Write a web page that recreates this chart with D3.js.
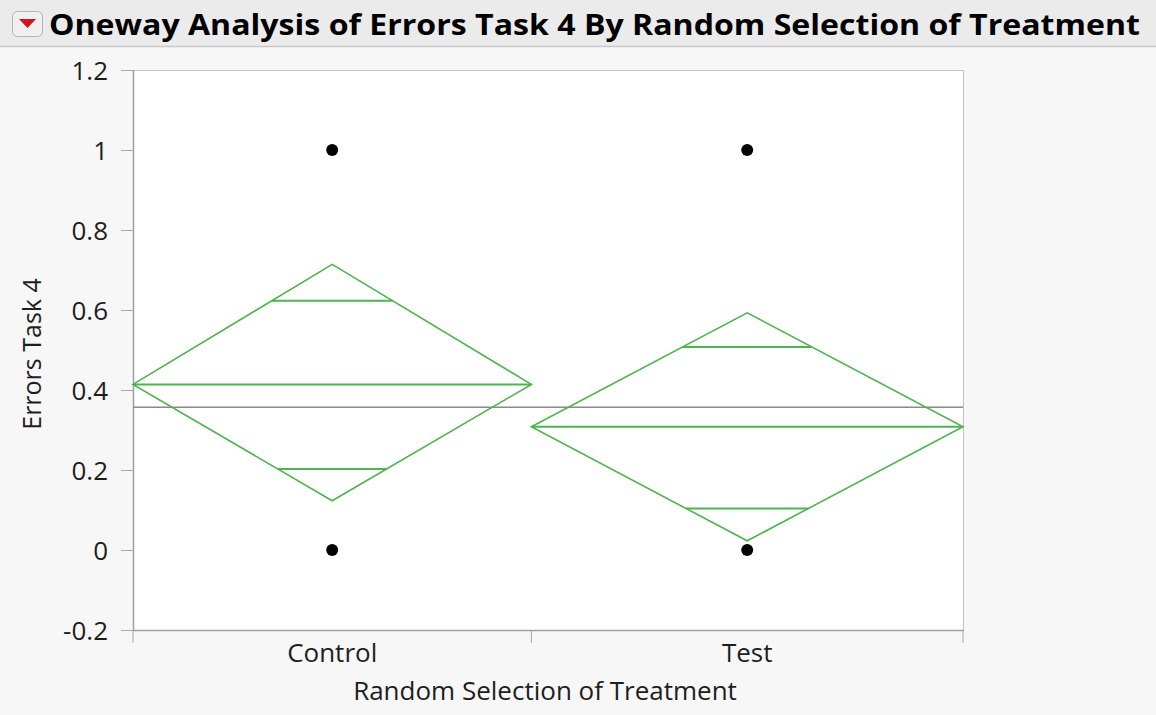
<!DOCTYPE html>
<html><head><meta charset="utf-8">
<script src="https://cdn.jsdelivr.net/npm/d3@7"></script>
<style>
html,body{margin:0;padding:0;background:#f7f7f7;}
svg{display:block;}
text{font-family:"Open Sans","Noto Sans",sans-serif;}
</style></head>
<body>
<svg id="chart" width="1156" height="715"></svg>
<script>
// ---- data ----
const categories = ["Control", "Test"];
const groupCounts = [24, 26];            // sample sizes (set category widths)
const groupMeans = [0.414, 0.308];
const ciUpper = [0.714, 0.593];
const ciLower = [0.123, 0.023];
const overlapUpper = [0.623, 0.5075];
const overlapLower = [0.2025, 0.104];
const grandMean = 0.357;
const pointCategory = ["Control", "Control", "Test", "Test"];
const pointValues = [1, 0, 1, 0];
const yTicks = [-0.2, 0, 0.2, 0.4, 0.6, 0.8, 1, 1.2];
const titleText = "Oneway Analysis of Errors Task 4 By Random Selection of Treatment";
const yTitle = "Errors Task 4";
const xTitle = "Random Selection of Treatment";

// ---- layout ----
const svg = d3.select("#chart");
const L = 133, R = 963, T = 70, B = 630;
const green = "#4fb44f";
const textCol = "#1e1e1e";

// header
svg.append("rect").attr("x",0).attr("y",0).attr("width",1156).attr("height",46).attr("fill","#ebebeb");
svg.append("line").attr("x1",0).attr("x2",1156).attr("y1",46.5).attr("y2",46.5).attr("stroke","#c9c9c9").attr("stroke-width",1.5);
svg.append("rect").attr("x",12.5).attr("y",11.5).attr("width",30).attr("height",25).attr("rx",5)
  .attr("fill","#f0f0f0").attr("stroke","#b4b4b4");
svg.append("path").attr("d","M19,19 L36,19 L27.5,28 Z").attr("fill","#d3121a");
svg.append("text").attr("x",49).attr("y",35).attr("font-size",29).attr("font-weight","bold")
  .attr("fill","#000").attr("textLength",1091).attr("lengthAdjust","spacingAndGlyphs").text(titleText);

// scales
const y = d3.scaleLinear().domain([-0.2, 1.2]).range([B, T]);
const total = d3.sum(groupCounts);
const edges = [0];
groupCounts.forEach(n => edges.push(edges[edges.length-1] + n/total));
const xr = d3.scaleLinear().domain([0,1]).range([L, R]);
const catLeft = c => xr(edges[categories.indexOf(c)]);
const catRight = c => xr(edges[categories.indexOf(c)+1]);
const catMid = c => (catLeft(c)+catRight(c))/2;

// plot background
svg.append("rect").attr("x",L).attr("y",T).attr("width",R-L).attr("height",B-T).attr("fill","#fff");

// y axis
const yAxis = d3.axisLeft(y).tickValues(yTicks).tickSize(12).tickPadding(13);
const gy = svg.append("g").attr("transform",`translate(${L},0)`).call(yAxis);
gy.select(".domain").remove();
gy.selectAll(".tick line").attr("stroke","#a8a8a8");
gy.selectAll(".tick text").attr("font-size",26).attr("font-family",null).attr("fill",textCol).attr("dy","0.36em")
  .text(d => d < 0 ? "-" + d3.format("")(Math.abs(d)) : d3.format("")(d));

// x axis ticks (category boundaries)
const gx = svg.append("g");
gx.selectAll("line").data(edges).join("line")
  .attr("x1", d => xr(d)).attr("x2", d => xr(d)).attr("y1", B).attr("y2", B+13)
  .attr("stroke","#a8a8a8");
gx.selectAll("text").data(categories).join("text")
  .attr("x", d => catMid(d)).attr("y", 662).attr("text-anchor","middle")
  .attr("font-size",26).attr("fill",textCol).text(d => d);

// frame
svg.append("line").attr("x1",L+0.5).attr("x2",R).attr("y1",T+0.5).attr("y2",T+0.5).attr("stroke","#c4c4c4");
svg.append("line").attr("x1",R+0.5).attr("x2",R+0.5).attr("y1",T).attr("y2",B).attr("stroke","#c4c4c4");
svg.append("line").attr("x1",L+0.5).attr("x2",L+0.5).attr("y1",T).attr("y2",B+1).attr("stroke","#a0a0a0").attr("stroke-width",1.5);
svg.append("line").attr("x1",L).attr("x2",R+1).attr("y1",B+0.5).attr("y2",B+0.5).attr("stroke","#a0a0a0").attr("stroke-width",1.5);

// grand mean line
svg.append("line").attr("x1",L).attr("x2",R).attr("y1",y(grandMean)).attr("y2",y(grandMean))
  .attr("stroke","#8a8a8a").attr("stroke-width",1.5);

// means diamonds
const g = svg.append("g").attr("fill","none").attr("stroke",green).attr("stroke-width",1.6);
categories.forEach((c,i) => {
  const l = catLeft(c), r = catRight(c), m = catMid(c), hw = (r-l)/2;
  g.append("path").attr("d",
    `M${l},${y(groupMeans[i])} L${m},${y(ciUpper[i])} L${r},${y(groupMeans[i])} L${m},${y(ciLower[i])} Z`);
  g.append("line").attr("x1",l).attr("x2",r).attr("y1",y(groupMeans[i])).attr("y2",y(groupMeans[i])).attr("stroke-width",2);
  [overlapUpper[i], overlapLower[i]].forEach(v => {
    const ci = v > groupMeans[i] ? ciUpper[i] : ciLower[i];
    const frac = (ci - v)/(ci - groupMeans[i]);
    const w = hw*frac;
    g.append("line").attr("x1",m-w).attr("x2",m+w).attr("y1",y(v)).attr("y2",y(v)).attr("stroke-width",2);
  });
});

// points
svg.append("g").selectAll("circle").data(pointValues).join("circle")
  .attr("cx",(d,i)=>catMid(pointCategory[i])).attr("cy",d=>y(d)).attr("r",6).attr("fill","#000");

// axis titles
svg.append("text").attr("x",545).attr("y",700).attr("text-anchor","middle").attr("font-size",26).attr("fill",textCol).text(xTitle);
svg.append("text").attr("transform","translate(41,354) rotate(-90)").attr("text-anchor","middle")
  .attr("font-size",25).attr("fill",textCol).text(yTitle);
</script>
</body></html>
